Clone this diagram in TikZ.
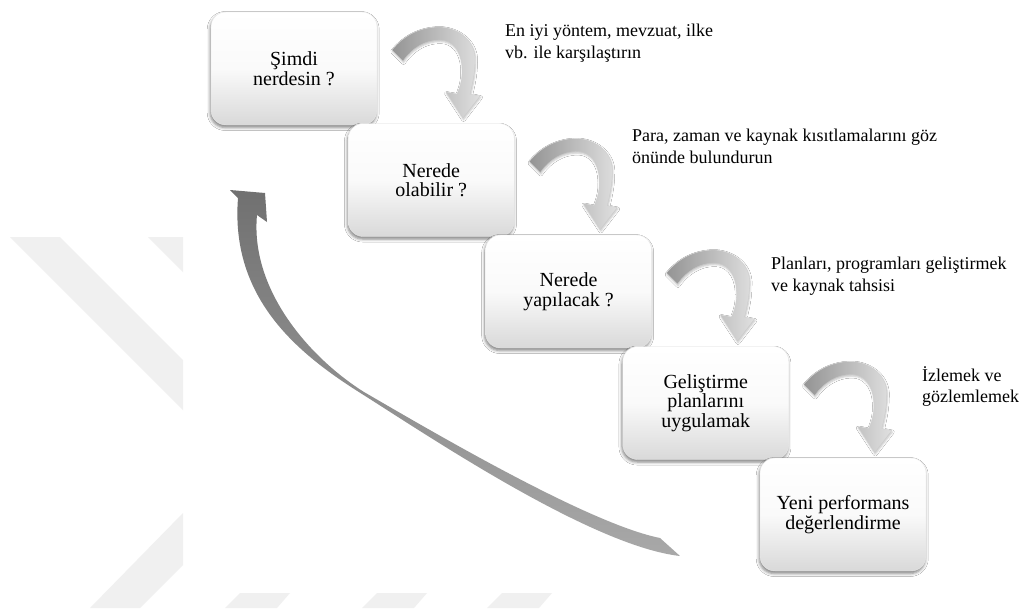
\documentclass[tikz,border=0pt]{standalone}
\usepackage{fontspec}
\setmainfont{Liberation Serif}
\usetikzlibrary{shadows.blur}

% curved grey block arrow leading from one step box to the next
\newcommand\bendarrow{%
  \shade[left color=black!42, right color=black!12, draw=black!20, line width=0.3pt,
         blur shadow={shadow xshift=0.5pt, shadow yshift=-1.5pt, shadow blur radius=2pt, shadow opacity=25}]
    (392,50) .. controls (405,34) and (422,27) .. (440,27)
    .. controls (460,28) and (476,42) .. (475,60)
    .. controls (475,72) and (473,82) .. (470,94)
    -- (480,96) -- (463,118) -- (446,92) -- (457,94)
    .. controls (461,85) and (463,76) .. (462,66)
    .. controls (461,50) and (452,40) .. (440,40)
    .. controls (425,40) and (412,48) .. (403,61) -- cycle;}

\begin{document}
\begin{tikzpicture}[x=1pt, y=-1pt,
  stepbox/.style={rectangle, rounded corners=15pt, minimum width=166pt, minimum height=113pt,
    top color=white, bottom color=black!15, middle color=black!2,
    draw=black!9, line width=0.4pt,
    blur shadow={shadow xshift=-0.8pt, shadow yshift=-2.5pt, shadow blur radius=3pt, shadow opacity=50},
    align=center, inner sep=0pt, font=\fontsize{20}{19.5}\selectfont},
  note/.style={anchor=north west, align=left, inner sep=0pt, font=\fontsize{18}{21.5}\selectfont},
  wmark/.style={fill=black!6, draw=none}]

\useasboundingbox (0,0) rectangle (1024,608);
\fill[white] (0,0) rectangle (1024,608);

% faint background marks
\fill[wmark] (10,237) -- (60,237) -- (183,360) -- (183,410) -- cycle;
\fill[wmark] (148,237) -- (183,237) -- (183,272) -- cycle;
\fill[wmark] (90,608) -- (183,513) -- (183,565) -- (140,608) -- cycle;
\foreach \t in {240,377,502}
  \fill[wmark] (\t-15,608) -- (\t,593) -- (\t+50,593) -- (\t+37,608) -- cycle;

% return arrow from the last step back to the first (ribbon narrowing in the middle)
\shade[top color=black!56, bottom color=black!34]
  (238,198) .. controls (230,300) and (300,355) .. (362,394)
  .. controls (430,437) and (592,546) .. (680,556)
  -- (660,538)
  .. controls (590,524) and (438,435) .. (364,392)
  .. controls (310,358) and (250,290) .. (257,215)
  -- (267,222) -- (265,193) -- (230,190) -- cycle;

% step boxes with the connecting bent arrows
\foreach \k in {0,...,3}{
  \begin{scope}[shift={(137.25*\k,111.5*\k)}]
    \bendarrow
  \end{scope}}

\node[stepbox] (s1) at (294,68.5)    {Şimdi\\nerdesin ?};
\node[stepbox] (s2) at (431.25,180)  {Nerede\\olabilir ?};
\node[stepbox] (s3) at (568.5,291.5) {Nerede\\yapılacak ?};
\node[stepbox] (s4) at (705.75,403)  {Geliştirme\\planlarını\\uygulamak};
\node[stepbox] (s5) at (843,514.5)   {Yeni performans\\değerlendirme};

% notes beside the arrows
\node[note] (n1) at (505,24)  {En iyi yöntem, mevzuat, ilke\\vb. ile karşılaştırın};
\node[note] (n2) at (632,129) {Para, zaman ve kaynak kısıtlamalarını göz\\önünde bulundurun};
\node[note] (n3) at (771,257) {Planları, programları geliştirmek\\ve kaynak tahsisi};
\node[note] (n4) at (922,366) {İzlemek ve\\gözlemlemek};
\end{tikzpicture}
\end{document}
